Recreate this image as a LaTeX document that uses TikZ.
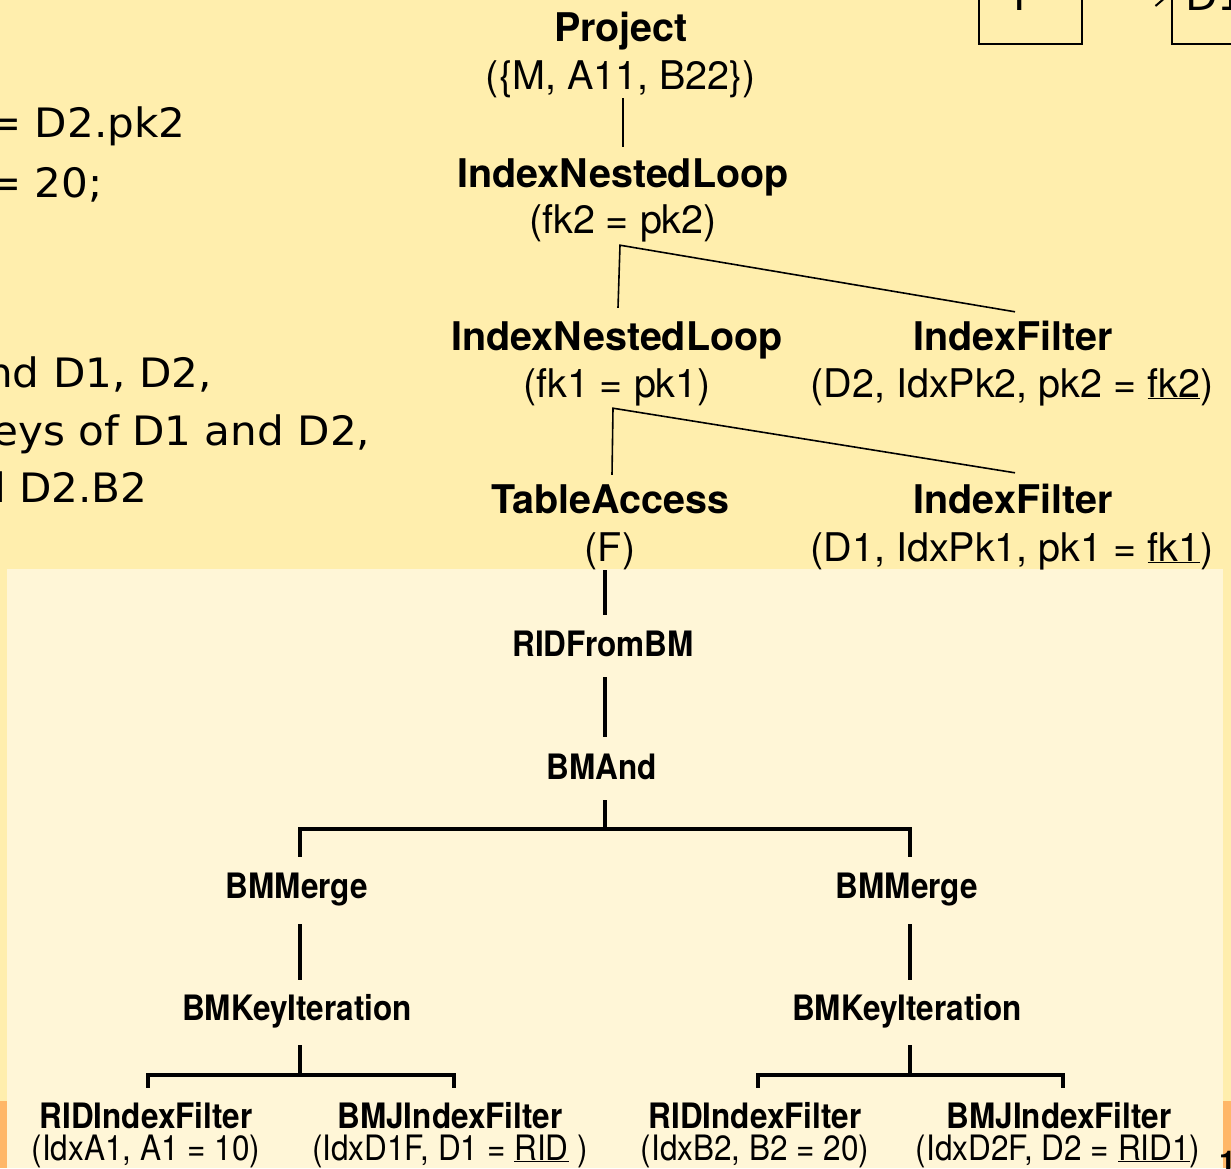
\documentclass[tikz,border=0pt]{standalone}
\usepackage{fontspec}
\setmainfont{TeX Gyre Heros}
\newfontfamily\plannarrow[FakeStretch=0.9]{TeX Gyre Heros}
\newfontfamily\handfont[FakeStretch=1.04]{DejaVu Sans}
\usetikzlibrary{arrows.meta}

\definecolor{slidebg}{RGB}{255,238,173}
\definecolor{panelbg}{RGB}{255,246,215}
\definecolor{footerband}{RGB}{255,183,104}

\tikzset{
  opname/.style={anchor=base, inner sep=0pt, text height=28pt, text depth=8pt,
    font=\fontsize{39.5}{44}\selectfont\bfseries},
  oparg/.style={anchor=base, inner sep=0pt, text height=28pt, text depth=9pt,
    font=\fontsize{39.5}{44}\selectfont},
  bmname/.style={anchor=base, inner sep=0pt, text height=25pt, text depth=7pt,
    font=\plannarrow\fontsize{35}{40}\selectfont\bfseries},
  bmarg/.style={anchor=base, inner sep=0pt, text height=25pt, text depth=7pt,
    font=\plannarrow\fontsize{35}{40}\selectfont},
  thinlink/.style={draw=black, line width=1.6pt},
  thicklink/.style={draw=black, line width=3.5pt, line join=miter, line cap=butt},
  note/.style={anchor=base west, inner sep=0pt, font=\handfont\fontsize{40.5}{46}\selectfont},
  relbox/.style={draw=black, line width=2pt, inner sep=0pt, minimum width=103pt, minimum height=110pt},
}

\begin{document}
\begin{tikzpicture}[x=1pt,y=-1pt]
\useasboundingbox (0,0) rectangle (1231,1168);
\clip (0,0) rectangle (1231,1168);

% slide background, footer band and the lighter panel of the bitmap plan
\fill[slidebg] (0,0) rectangle (1231,1168);
\fill[footerband] (0,1101) rectangle (1231,1168);
\fill[panelbg] (7,569) rectangle (1223,1168);

% query text at the left edge
\node[note] (n1) at (-14,137) {= D2.pk2};
\node[note] (n2) at (-14,197) {= 20;};
\node[note] (n3) at (-14,387) {nd D1, D2,};
\node[note] (n4) at (-8,445) {eys of D1 and D2,};
\node[note] (n5) at (-21,502) {d D2.B2};

% schema boxes at the top right
\node[relbox] (boxF) at (1030.5,-11) {};
\node[relbox, minimum width=104pt] (boxD) at (1224,-11) {};
\node[note, anchor=base] (labF) at (1026,10) {F};
\node[note] (labD) at (1185,10) {D1};
\draw[line width=2pt, -{Straight Barb[length=14pt,width=24pt]}]
  ([yshift=-5pt]boxF.east) -- ([yshift=-5pt]boxD.west);

% upper plan
\node[opname] (prjN) at (621,41) {Project};
\node[oparg] (prjP) at (621,89) {(\{M, A11, B22\})};
\node[opname] (inlaN) at (623,187) {IndexNestedLoop};
\node[oparg] (inlaP) at (623,233) {(fk2 = pk2)};
\node[opname] (inlbN) at (617,350) {IndexNestedLoop};
\node[oparg] (inlbP) at (617,397) {(fk1 = pk1)};
\node[opname] (ifaN) at (1013,350) {IndexFilter};
\node[oparg] (ifaP) at (1012,397) {(D2, IdxPk2, pk2 = \underline{fk2})};
\node[opname] (taN) at (610,513) {TableAccess};
\node[oparg] (taP) at (610,561) {(F)};
\node[opname] (ifbN) at (1013,513) {IndexFilter};
\node[oparg] (ifbP) at (1012,561) {(D1, IdxPk1, pk1 = \underline{fk1})};

\draw[thinlink] ([xshift=2pt]prjP.south) -- ([yshift=12pt]inlaN.north);
\draw[thinlink] ([xshift=1pt,yshift=14pt]inlbN.north) -- ([xshift=-3pt,yshift=-3pt]inlaP.south)
  -- ([xshift=2pt,yshift=10pt]ifaN.north);
\draw[thinlink] ([xshift=2pt,yshift=10pt]taN.north) -- ([xshift=-4pt,yshift=-2pt]inlbP.south)
  -- ([xshift=2pt,yshift=12pt]ifbN.north);

% bitmap access plan
\node[bmname] (ridN) at (603,656) {RIDFromBM};
\node[bmname] (andN) at (602,779) {BMAnd};
\node[bmname] (mrgL) at (297,898) {BMMerge};
\node[bmname] (mrgR) at (907,898) {BMMerge};
\node[bmname] (kitL) at (297,1020) {BMKeyIteration};
\node[bmname] (kitR) at (907,1020) {BMKeyIteration};
\node[bmname] (lfaN) at (146,1128) {RIDIndexFilter};
\node[bmarg]  (lfaP) at (146,1160) {(IdxA1, A1 = 10)};
\node[bmname] (lfbN) at (450,1128) {BMJIndexFilter};
\node[bmarg]  (lfbP) at (450,1160) {(IdxD1F, D1 = \underline{RID} )};
\node[bmname] (lfcN) at (755,1128) {RIDIndexFilter};
\node[bmarg]  (lfcP) at (755,1160) {(IdxB2, B2 = 20)};
\node[bmname] (lfdN) at (1059,1128) {BMJIndexFilter};
\node[bmarg]  (lfdP) at (1058,1160) {(IdxD2F, D2 = \underline{RID1})};

\draw[thicklink] ([xshift=-5pt]taP.south) -- ([xshift=2pt,yshift=16pt]ridN.north);
\draw[thicklink] ([xshift=2pt,yshift=-14pt]ridN.south) -- ([xshift=3pt,yshift=17pt]andN.north);
\draw[thicklink] ([xshift=3pt,yshift=-14pt]andN.south) -- ++(0,29) coordinate (forkA);
\draw[thicklink] ([xshift=3pt,yshift=16pt]mrgL.north) |- (forkA) -| ([xshift=3pt,yshift=16pt]mrgR.north);
\draw[thicklink] ([xshift=3pt,yshift=-19pt]mrgL.south) -- ([xshift=3pt,yshift=15pt]kitL.north);
\draw[thicklink] ([xshift=3pt,yshift=-19pt]mrgR.south) -- ([xshift=3pt,yshift=15pt]kitR.north);
\draw[thicklink] ([xshift=3pt,yshift=-18pt]kitL.south) -- ++(0,30) coordinate (forkL);
\draw[thicklink] ([xshift=2pt,yshift=15pt]lfaN.north) |- (forkL) -| ([xshift=4pt,yshift=15pt]lfbN.north);
\draw[thicklink] ([xshift=3pt,yshift=-18pt]kitR.south) -- ++(0,30) coordinate (forkR);
\draw[thicklink] ([xshift=3pt,yshift=15pt]lfcN.north) |- (forkR) -| ([xshift=4pt,yshift=15pt]lfdN.north);

% page number at the corner
\node[anchor=base west, inner sep=0pt, font=\fontsize{30}{34}\selectfont\bfseries] (pgno) at (1219,1172) {1};
\end{tikzpicture}
\end{document}
